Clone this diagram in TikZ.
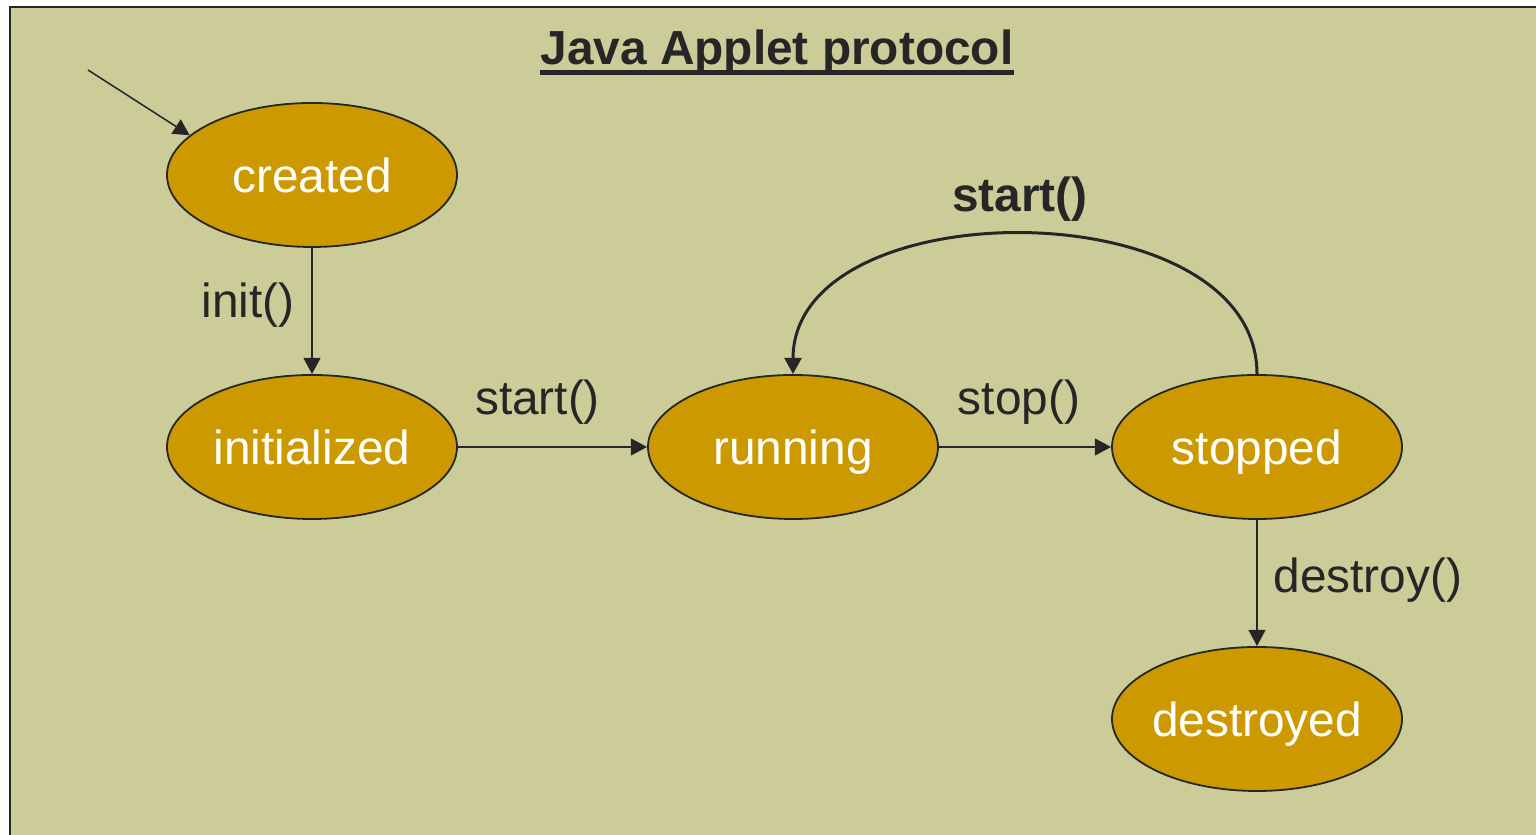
\documentclass[tikz,border=0pt]{standalone}
\usepackage{fontspec}
\setmainfont{Liberation Sans}
\usetikzlibrary{shapes.geometric,arrows.meta}
\definecolor{bgolive}{RGB}{204,204,153}
\definecolor{stategold}{RGB}{204,153,0}
\definecolor{inkgray}{RGB}{38,38,38}
\tikzstyle{state}=[ellipse,inner xsep=-2mm,inner ysep=0mm,minimum width=2.9cm,minimum height=1.44cm,text height=0.36cm,text depth=0cm,draw=inkgray,line width=0.018cm,fill=stategold,text=white]
\tikzstyle{lbl}=[text=inkgray]
\tikzstyle{trans}=[draw=inkgray,line width=0.015cm,-{Triangle[length=4.6pt,width=4.8pt]}]

\begin{document}
\begin{tikzpicture}[font=\fontsize{13.6}{16}\selectfont]
\useasboundingbox (0,0) rectangle (15.36,8.35);
\fill[bgolive] (0.10,-0.5) rectangle (16,8.28);
\draw[inkgray,line width=0.02cm] (0.10,-0.5) -- (0.10,8.28) -- (16,8.28);

\node (title) at (7.77,7.70) [lbl, anchor=base, inner sep=0pt] {\textbf{Java Applet protocol}};
\draw[inkgray,line width=0.045cm] ([yshift=-0.075cm]title.base west) -- ([yshift=-0.075cm]title.base east);

\node (created) at (3.12,6.60) [state] {created};
\node (init) at (3.12,3.88) [state] {initialized};
\node (run) at (7.93,3.88) [state] {running};
\node (stop) at (12.57,3.88) [state] {stopped};
\node (dest) at (12.57,1.16) [state] {destroyed};
\coordinate (entry) at (0.88,7.65);

\draw[trans] (entry) -- (created.162);
\draw[trans] (created) -- (init) node [lbl, midway, left=0.05cm, yshift=0.06cm] {init()};
\draw[trans] (init) -- (run) node [lbl, midway, above=0.1cm, xshift=-0.15cm] {start()};
\draw[trans] (run) -- (stop) node [lbl, midway, above=0.1cm, xshift=-0.06cm] {stop()};
\draw[trans] (stop) -- (dest) node [lbl, midway, right=0.04cm, yshift=0.03cm] {destroy()};

\draw[trans,line width=0.03cm] (stop.north) .. controls (12.57,6.47) and (7.93,6.47) .. (run.north)
  node [lbl, pos=0.5, above=0cm, xshift=-0.05cm] {\textbf{start()}};
\end{tikzpicture}
\end{document}
